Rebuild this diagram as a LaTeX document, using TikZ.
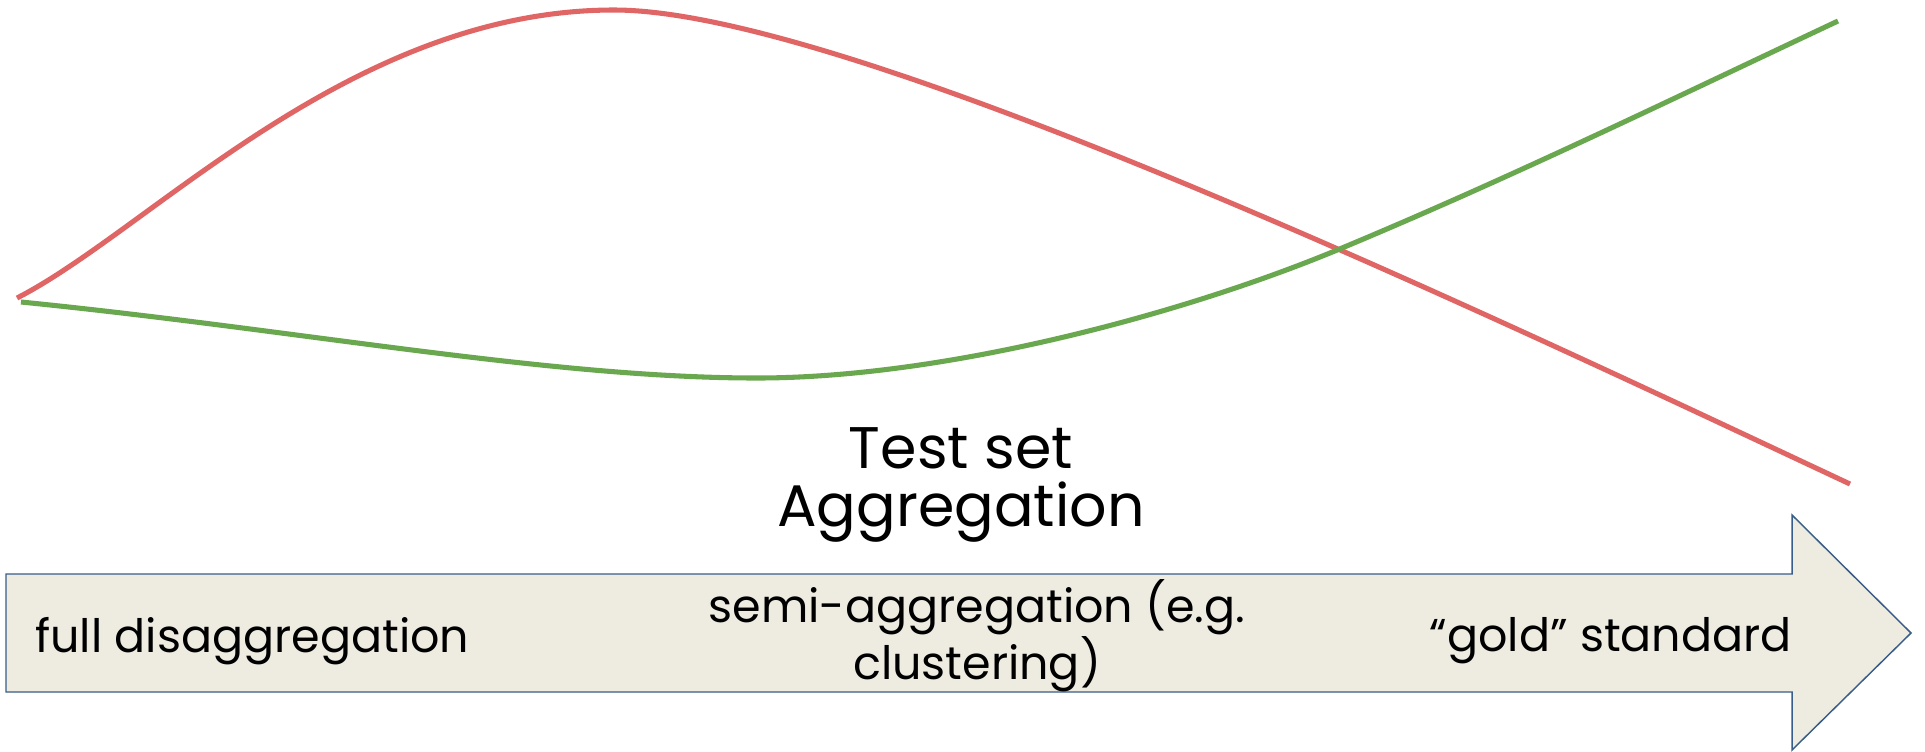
\documentclass[tikz,border=0pt]{standalone}
\usepackage{fontspec}
\setmainfont{Poppins}
\definecolor{curvered}{HTML}{E06666}
\definecolor{curvegreen}{HTML}{6AA84F}
\definecolor{arrowfill}{HTML}{EEECE1}
\definecolor{arrowedge}{HTML}{385D8A}
\begin{document}
\begin{tikzpicture}[x=0.75pt,y=-0.75pt,
  curve/.style={line width=3.8pt},
  label/.style={inner sep=0pt,font=\fontsize{34.5}{38}\selectfont,text=black},
  title/.style={inner sep=0pt,font=\fontsize{44}{43}\selectfont,text=black,align=center}]
\useasboundingbox (0,0) rectangle (1925,751);
% block arrow along the bottom
\draw[fill=arrowfill,draw=arrowedge,line width=1.1pt,line join=miter]
  (6,574) -- (1792,574) -- (1792,515) -- (1911,633) -- (1792,750)
  -- (1792,692) -- (6,692) -- cycle;
% the two trade-off curves
\draw[curve,curvered] (17,298) .. controls (150,230) and (350,10) .. (614,10)
  .. controls (850,10) and (1500,320) .. (1850,484);
\draw[curve,curvegreen] (21,302) .. controls (300,330) and (550,378) .. (757,378)
  .. controls (950,378) and (1192,311) .. (1342,248)
  .. controls (1512,177) and (1668,101) .. (1838,21);
% labels
\node[title] (ttl) at (961,485) {Test set\\Aggregation};
\node[label,anchor=base west] (full) at (35,652) {full disaggregation};
\node[label,align=center] (semi) at (977,636) {semi-aggregation (e.g.\\clustering)};
\node[label,anchor=base east] (gold) at (1792,651) {“gold” standard};
\end{tikzpicture}
\end{document}
